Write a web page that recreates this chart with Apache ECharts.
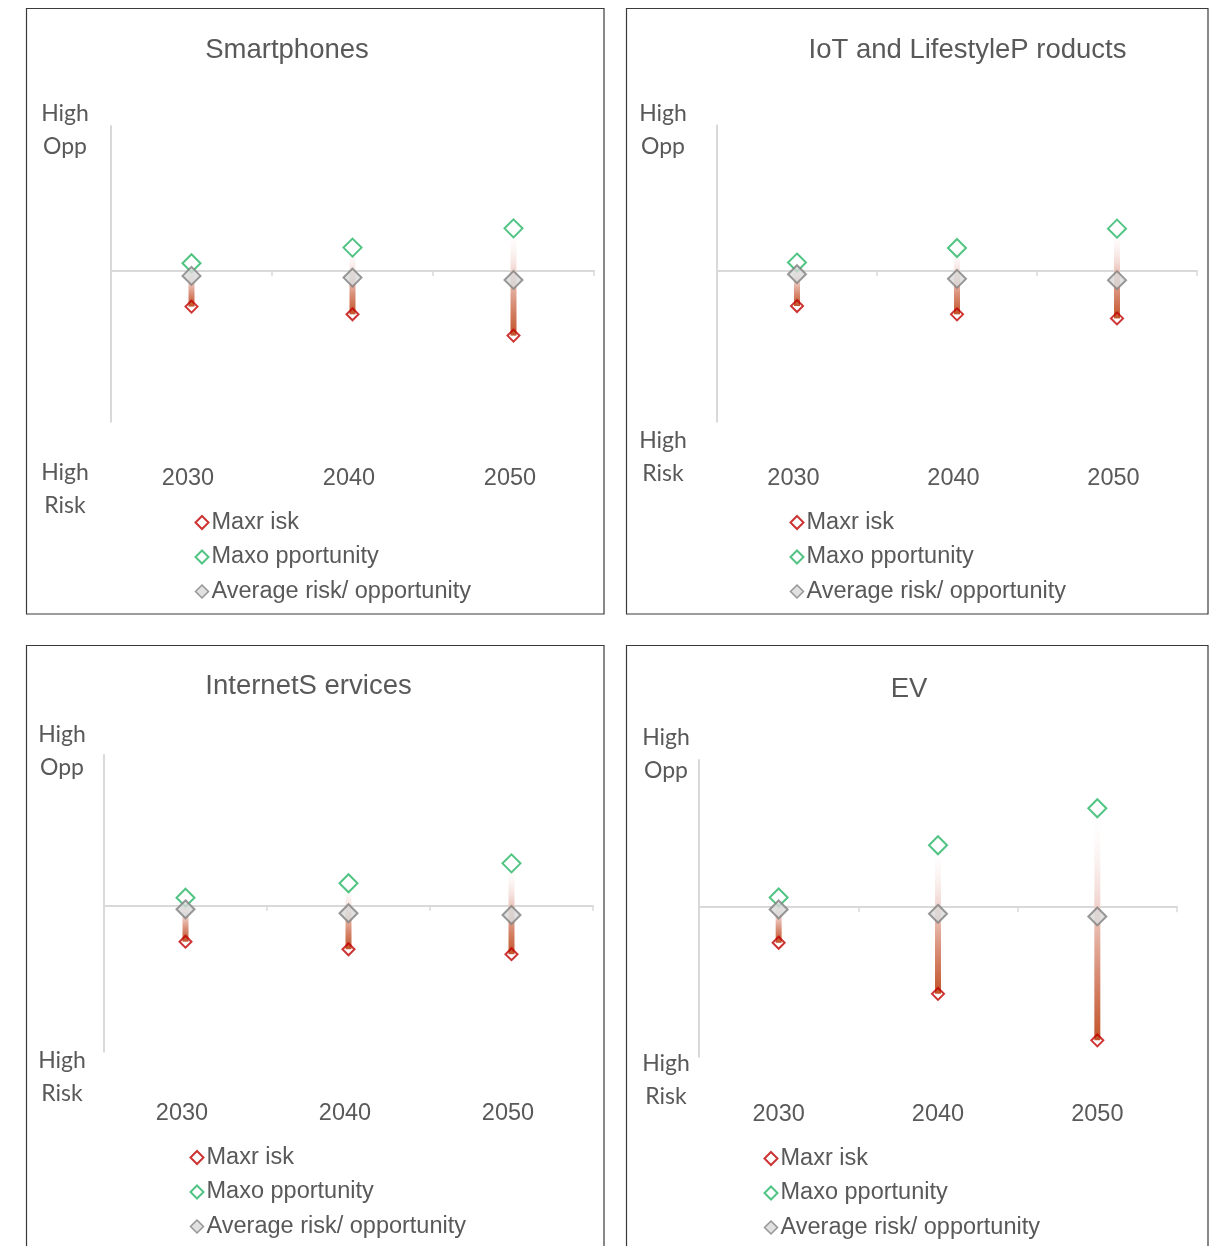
<!DOCTYPE html>
<html>
<head>
<meta charset="utf-8">
<script src="https://cdn.jsdelivr.net/npm/echarts@6/dist/echarts.min.js"></script>
<style>
  html, body { margin: 0; padding: 0; background: #ffffff; }
  #chart { width: 1214px; height: 1246px; }
</style>
</head>
<body>
<div id="chart"></div>
<script>
// ---------------- DATA ----------------
const categories = ['2030', '2040', '2050'];
const panelTitles = ['Smartphones', 'IoT and LifestyleP roducts', 'InternetS ervices', 'EV'];
const seriesNames = ['Maxr isk', 'Maxo pportunity', 'Average risk/ opportunity'];
const axisTopLabel = 'High\nOpp';
const axisBottomLabel = 'High\nRisk';

// values on a -1 (high risk) .. +1 (high opportunity) scale
const smartphonesRisk = [-0.246, -0.299, -0.446];
const smartphonesOpp  = [0.053, 0.161, 0.294];
const smartphonesAvg  = [-0.034, -0.046, -0.062];

const iotRisk = [-0.241, -0.298, -0.326];
const iotOpp  = [0.058, 0.158, 0.291];
const iotAvg  = [-0.022, -0.054, -0.063];

const internetRisk = [-0.239, -0.289, -0.322];
const internetOpp  = [0.053, 0.149, 0.281];
const internetAvg  = [-0.024, -0.050, -0.062];

const evRisk = [-0.242, -0.589, -0.905];
const evOpp  = [0.066, 0.421, 0.672];
const evAvg  = [-0.016, -0.045, -0.063];

const yMax = [1, 1, 1, 1];
const yMin = [-1.04, -1.036, -0.969, -1.016];

// ---------------- LAYOUT ----------------
const panels = [
  { risk: smartphonesRisk, opp: smartphonesOpp, avg: smartphonesAvg,
    box: [26.5, 8.5, 577.5, 605.5], grid: { left: 111, top: 126, width: 483, height: 295.7 },
    title: [287, 50], labelMargin: 45, labelPad: 7, legend: [194.5, 510.5], side: [65, 114, 473] },
  { risk: iotRisk, opp: iotOpp, avg: iotAvg,
    box: [626.5, 8.5, 581.5, 605.5], grid: { left: 717, top: 125.5, width: 480, height: 296.2 },
    title: [967.5, 50], labelMargin: 45, labelPad: 7, legend: [789.5, 510.5], side: [663, 114, 441] },
  { risk: internetRisk, opp: internetOpp, avg: internetAvg,
    box: [26.5, 645.5, 577.5, 640], grid: { left: 104, top: 755, width: 489, height: 296.7 },
    title: [308.5, 686], labelMargin: 50, labelPad: 7, legend: [189.5, 1145.5], side: [62, 735, 1061] },
  { risk: evRisk, opp: evOpp, avg: evAvg,
    box: [626.5, 645.5, 581.5, 640], grid: { left: 699, top: 760, width: 478, height: 296.7 },
    title: [909, 689], labelMargin: 46, labelPad: 0, legend: [763.5, 1146.5], side: [666, 738, 1064] }
];

const TXT = '#595959';
const RED = '#c00000';
const GREEN = '#25b565';
const GRAY_FILL = '#d9d9d9';
const GRAY_LINE = '#808080';
const AXIS = '#d9d9d9';
const SANS = 'Liberation Sans, Arial, sans-serif';

const option = {
  backgroundColor: '#ffffff',
  animation: false,
  title: [], grid: [], xAxis: [], yAxis: [], series: [], legend: [], graphic: []
};

panels.forEach((p, i) => {
  option.title.push({
    text: panelTitles[i], left: p.title[0], top: p.title[1] - 16, textAlign: 'center', padding: 0,
    textStyle: { fontFamily: SANS, fontSize: 27.5, fontWeight: 'normal', color: TXT, lineHeight: 32 }
  });
  option.grid.push(Object.assign({ containLabel: false }, p.grid));
  // x axis drawn on the zero line (line + ticks)
  option.xAxis.push({
    type: 'category', gridIndex: i, data: categories, boundaryGap: true,
    axisLine: { show: true, onZero: true, lineStyle: { color: AXIS, width: 2 } },
    axisTick: { show: true, length: 5, lineStyle: { color: AXIS, width: 1.5 } },
    axisLabel: { show: false }, splitLine: { show: false }
  });
  // x axis at the bottom carrying only the labels
  option.xAxis.push({
    type: 'category', gridIndex: i, data: categories, position: 'bottom', boundaryGap: true,
    axisLine: { show: false, onZero: false }, axisTick: { show: false }, splitLine: { show: false },
    axisLabel: { show: true, margin: p.labelMargin, color: TXT, fontSize: 23.5, fontFamily: SANS, padding: [0, p.labelPad, 0, 0] }
  });
  option.yAxis.push({
    type: 'value', gridIndex: i, min: yMin[i], max: yMax[i],
    axisLine: { show: true, onZero: false, lineStyle: { color: AXIS, width: 2 } },
    axisTick: { show: false }, axisLabel: { show: false }, splitLine: { show: false }
  });

  const xi = i * 2;
  const rangeData = categories.map((c, k) => [k, p.opp[k], p.risk[k]]);
  option.series.push({
    type: 'custom', xAxisIndex: xi, yAxisIndex: i, z: 1, silent: true,
    data: rangeData,
    renderItem: function (params, api) {
      const top = api.coord([api.value(0), api.value(1)]);
      const bot = api.coord([api.value(0), api.value(2)]);
      const w = 6;
      return {
        type: 'rect',
        shape: { x: top[0] - w / 2, y: top[1], width: w, height: bot[1] - top[1] },
        style: {
          fill: new echarts.graphic.LinearGradient(0, 0, 0, 1, [
            { offset: 0, color: 'rgba(255,255,255,0)' },
            { offset: 0.4, color: '#f1d6d0' },
            { offset: 0.7, color: '#d98f77' },
            { offset: 1, color: '#c2542a' }
          ])
        }
      };
    }
  });
  option.series.push({
    name: seriesNames[0], type: 'scatter', xAxisIndex: xi, yAxisIndex: i, z: 3,
    symbol: 'diamond', symbolSize: 12, data: p.risk,
    itemStyle: { color: 'rgba(255,255,255,0)', borderColor: RED, borderWidth: 2 }
  });
  option.series.push({
    name: seriesNames[1], type: 'scatter', xAxisIndex: xi, yAxisIndex: i, z: 3,
    symbol: 'diamond', symbolSize: 18, data: p.opp,
    itemStyle: { color: 'rgba(255,255,255,0)', borderColor: GREEN, borderWidth: 2 }
  });
  option.series.push({
    name: seriesNames[2], type: 'scatter', xAxisIndex: xi, yAxisIndex: i, z: 4,
    symbol: 'diamond', symbolSize: 18, data: p.avg,
    itemStyle: { color: GRAY_FILL, borderColor: GRAY_LINE, borderWidth: 2 }
  });

  option.legend.push({
    orient: 'vertical', left: p.legend[0], top: p.legend[1], padding: 0,
    itemWidth: 13, itemHeight: 13, itemGap: 10.5, selectedMode: false,
    textStyle: { color: TXT, fontSize: 23.5, lineHeight: 24, fontFamily: SANS, padding: [0, 0, 0, -2] },
    data: [
      { name: seriesNames[0], icon: 'diamond', itemStyle: { color: '#ffffff', borderColor: RED, borderWidth: 2 } },
      { name: seriesNames[1], icon: 'diamond', itemStyle: { color: '#ffffff', borderColor: GREEN, borderWidth: 2 } },
      { name: seriesNames[2], icon: 'diamond', itemStyle: { color: GRAY_FILL, borderColor: GRAY_LINE, borderWidth: 1.5 } }
    ]
  });

  option.graphic.push({
    type: 'rect', silent: true, z: 0,
    shape: { x: p.box[0], y: p.box[1], width: p.box[2], height: p.box[3] },
    style: { fill: null, stroke: '#3a3a3a', lineWidth: 1.2 }
  });
  option.graphic.push({
    type: 'text', silent: true, x: p.side[0], y: p.side[1] - 16.5,
    style: { text: axisTopLabel, fill: TXT, font: '23px Lato, "Open Sans", sans-serif', lineHeight: 33, align: 'center', verticalAlign: 'top' }
  });
  option.graphic.push({
    type: 'text', silent: true, x: p.side[0], y: p.side[2] - 16.5,
    style: { text: axisBottomLabel, fill: TXT, font: '23px Lato, "Open Sans", sans-serif', lineHeight: 33, align: 'center', verticalAlign: 'top' }
  });
});

const chart = echarts.init(document.getElementById('chart'), null, { renderer: 'canvas' });
chart.setOption(option);
</script>
</body>
</html>
